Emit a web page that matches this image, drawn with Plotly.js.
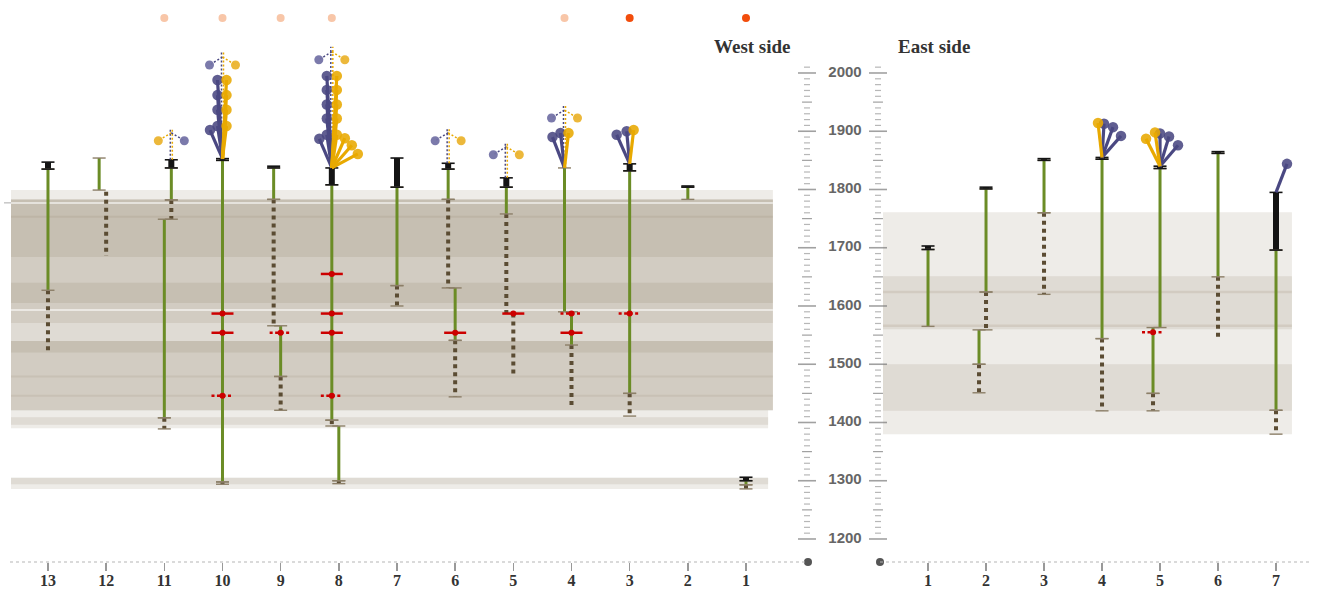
<!DOCTYPE html>
<html><head><meta charset="utf-8">
<script src="https://cdn.plot.ly/plotly-3.0.1.min.js"></script>
<style>html,body{margin:0;padding:0;background:#fff}#chart{width:1318px;height:590px}</style>
</head><body><div id="chart"></div>
<script>
// ================= DATA =================
const westCols = [13,12,11,10,9,8,7,6,5,4,3,2,1];
const eastCols = [1,2,3,4,5,6,7];

// [column, lane(-1 left / 0 centre / +1 right), kind, low, high]
const westSegments = [
  [13,0,'black',1835,1847],[13,0,'green',1627,1835],[13,0,'dot',1521,1627],
  [12,-1,'green',1799,1854],[12,0,'dot',1686,1796],
  [11,1,'black',1837,1851],[11,1,'green',1782,1837],[11,1,'dotc',1749,1782],[11,0,'green',1408,1749],[11,0,'dotc',1389,1408],
  [10,0,'black',1850,1853],[10,0,'green',1298,1850],[10,0,'dotc',1294,1298],
  [9,-1,'black',1837,1840],[9,-1,'green',1783,1837],[9,-1,'dotc',1566,1783],[9,0,'green',1479,1566],[9,0,'dotc',1421,1479],
  [8,-1,'black',1808,1837],[8,-1,'green',1404,1808],[8,-1,'dotc',1394,1404],[8,0,'green',1300,1394],[8,0,'dotc',1295,1300],
  [7,0,'black',1804,1854],[7,0,'green',1635,1804],[7,0,'dotc',1600,1635],
  [6,-1,'black',1835,1845],[6,-1,'green',1783,1835],[6,-1,'dotc',1631,1783],[6,0,'green',1541,1631],[6,0,'dotc',1444,1541],
  [5,-1,'black',1804,1820],[5,-1,'green',1758,1804],[5,-1,'dot',1587,1758],[5,0,'dot',1481,1587],
  [4,-1,'green',1590,1837],[4,0,'green',1533,1590],[4,0,'dot',1429,1533],
  [3,0,'black',1832,1844],[3,0,'green',1450,1832],[3,0,'dotc',1411,1450],
  [2,0,'black',1804,1806],[2,0,'green',1783,1804],
  [1,0,'black',1300,1306],[1,0,'green',1293,1300],[1,0,'dotc',1286,1293]
];
const eastSegments = [
  [1,0,'black',1697,1703],[1,0,'green',1565,1697],
  [2,0,'black',1801,1804],[2,0,'green',1624,1801],[2,0,'dotc',1559,1624],[2,-1,'green',1500,1559],[2,-1,'dotc',1451,1500],
  [3,0,'black',1850,1853],[3,0,'green',1760,1850],[3,0,'dotc',1620,1760],
  [4,0,'black',1852,1855],[4,0,'green',1544,1852],[4,0,'dotc',1420,1544],
  [5,0,'black',1836,1840],[5,0,'green',1563,1836],[5,-1,'green',1450,1563],[5,-1,'dotc',1420,1450],
  [6,0,'black',1862,1865],[6,0,'green',1650,1862],[6,0,'dot',1546,1650],
  [7,0,'black',1696,1795],[7,0,'green',1421,1696],[7,0,'dotc',1380,1421]
];

// red markers: [column, lane, value, style]
const westMarks = [
  [10,0,1587,'solid'],[10,0,1554,'solid'],[10,0,1446,'dotted'],
  [9,0,1554,'dotted'],
  [8,-1,1655,'solid'],[8,-1,1587,'solid'],[8,-1,1554,'solid'],[8,-1,1446,'dotted'],
  [6,0,1554,'solid'],[5,0,1587,'solid'],
  [4,0,1587,'dotted'],[4,0,1554,'solid'],[3,0,1587,'dotted']
];
const eastMarks = [[5,-1,1555,'dotted']];

// flower leaves: [column, lane, colour, value]  (lean in px kept apart below)
const westLeaves = [
  [10,0,'P',1988],[10,0,'P',1962],[10,0,'P',1937],[10,0,'P',1909],[10,0,'P',1902],
  [10,0,'G',1988],[10,0,'G',1962],[10,0,'G',1937],[10,0,'G',1909],
  [8,-1,'P',1995],[8,-1,'P',1971],[8,-1,'P',1946],[8,-1,'P',1922],[8,-1,'P',1894],[8,-1,'P',1887],
  [8,-1,'G',1995],[8,-1,'G',1971],[8,-1,'G',1946],[8,-1,'G',1922],[8,-1,'G',1894],[8,-1,'G',1888],[8,-1,'G',1876],[8,-1,'G',1861],
  [4,-1,'P',1890],[4,-1,'P',1897],[4,-1,'G',1897],
  [3,0,'P',1894],[3,0,'P',1900],[3,0,'G',1902]
];
const westLeafLean = [-5,-5,-5,-5,-12.5, 4,4,4,4, -5,-5,-5,-5,-5,-12.5, 5,5,5,5,5,13,20,26, -12,-4,4, -13,-3,4];
const eastLeaves = [
  [4,0,'G',1914],[4,0,'P',1913],[4,0,'P',1907],[4,0,'P',1892],
  [5,0,'G',1887],[5,0,'G',1898],[5,0,'P',1896],[5,0,'P',1891],[5,0,'P',1876],
  [7,0,'P',1844]
];
const eastLeafLean = [-4,2,11,19, -14,-5,0,9,18, 11];

// dotted flowers: [column, lane, top value, colour on the left]
const westDotFlowers = [[11,1,1906,'G'],[10,0,2036,'P'],[8,-1,2045,'P'],[6,-1,1906,'P'],[5,-1,1882,'P'],[4,-1,1945,'P']];

// flag dots along the top: [column, lane, kind]
const westFlags = [[11,0,'pale'],[10,0,'pale'],[9,0,'pale'],[8,-1,'pale'],[4,-1,'pale'],[3,0,'bright'],[1,0,'bright']];

// background ranges
const westBands = [[1421,1799],[1421,1783],[1571,1783],[1421,1540],[1684,1783],[1605,1640],[1520,1540]];
const westBandsShort = [[1390,1421],[1396,1409],[1286,1305],[1294,1305]];
const westLinesLight = [1593,1777];
const westLinesDark = [1446,1479,1753];
const eastBands = [[1380,1761],[1560,1651],[1420,1500]];
const eastLinesDark = [1624,1566];

const ladderTicks = [];
for (let v = 1200; v <= 2010; v += 10) ladderTicks.push(v);
const ladderLabels = [1200,1300,1400,1500,1600,1700,1800,1900,2000];

// ================= DRAWING =================
const W = 1318, H = 590;
const Y0 = 1160.5, Y1 = 2125.3;
const PXV = 562 / (Y1 - Y0);                 // px per unit (y)
const WR = [13.653, -0.066], ER = [0.172, 7.586];
const WD = [10 / W, 808 / W], ED = [880 / W, 1310 / W];
const PXW = 798 / Math.abs(WR[1] - WR[0]);
const PXE = 430 / Math.abs(ER[1] - ER[0]);
const LANE = 7;

const C = {green:'#6b8c26', dot:'#5b4c33', black:'#141414', cap:'#8c7f68', red:'#cc0000',
           P:'#4a4882', G:'#e8a900', Pl:'#7473a6', Gl:'#ebb430', pale:'#f8c6a8', bright:'#f24d0c'};

function xs(side, col, lane, px) {
  const off = lane * LANE + (px || 0);
  return side === 'W' ? col - off / PXW : col + off / PXE;
}
function ax(side) { return side === 'W' ? 'x' : 'x2'; }
const traces = [];
function lines(side, segs, line, extra) {
  const x = [], y = [];
  segs.forEach(s => { x.push(s[0], s[2], null); y.push(s[1], s[3], null); });
  traces.push(Object.assign({type:'scatter', mode:'lines', x, y, xaxis:ax(side), yaxis:'y',
    line, hoverinfo:'skip', showlegend:false}, extra || {}));
}
function marks(side, pts, marker, extra) {
  traces.push(Object.assign({type:'scatter', mode:'markers', x:pts.map(p=>p[0]), y:pts.map(p=>p[1]),
    xaxis:ax(side), yaxis:'y', marker, hoverinfo:'skip', showlegend:false}, extra || {}));
}

function drawSide(side, segs, mks, leaves, leans, dflowers, flags) {
  const g = [], d = [], b = [], capsN = [], capsB = [];
  segs.forEach(([col, lane, kind, lo, hi]) => {
    const x = xs(side, col, lane);
    if (kind === 'green') { g.push([x, lo, x, hi]); capsN.push([x, lo], [x, hi]); }
    else if (kind === 'black') { b.push([x, lo, x, hi]); capsB.push([x, lo], [x, hi]); }
    else { d.push([x, hi, x, lo]); if (kind === 'dotc') capsN.push([x, lo], [x, hi]); }
  });
  lines(side, g, {color:C.green, width:3});
  lines(side, d, {color:C.dot, width:4, dash:'4px,4px'});
  lines(side, b, {color:C.black, width:6});
  marks(side, capsN, {symbol:'line-ew', size:9.3, line:{width:1.4, color:C.cap}});
  marks(side, capsB, {symbol:'line-ew', size:9.3, line:{width:1.6, color:C.black}});

  // red markers
  const rs = [], rd = [], rc = [];
  mks.forEach(([col, lane, v, st]) => {
    const s = [xs(side, col, lane, -11), v, xs(side, col, lane, 11), v];
    (st === 'solid' ? rs : rd).push(s);
    rc.push([xs(side, col, lane), v]);
  });
  if (rs.length) lines(side, rs, {color:C.red, width:2.5});
  if (rd.length) lines(side, rd, {color:C.red, width:2.5, dash:'3px,2.5px'});
  marks(side, rc, {symbol:'circle', size:6, color:C.red});

  const base = (col, lane) => Math.max(...segs.filter(s => s[0] === col && s[1] === lane).map(s => s[4]));

  // dotted flowers
  dflowers.forEach(([col, lane, top, left]) => {
    const b0 = base(col, lane), right = left === 'P' ? 'G' : 'P';
    lines(side, [[xs(side,col,lane,-1), b0, xs(side,col,lane,-1), top]], {color:C.P, width:1.5, dash:'2px,2px'});
    lines(side, [[xs(side,col,lane,1), b0, xs(side,col,lane,1), top]], {color:C.G, width:1.5, dash:'2px,2px'});
    const j = top - 5 / PXV, cv = top - 13 / PXV;
    lines(side, [[xs(side,col,lane,0), j, xs(side,col,lane,-13), cv]], {color:C[left], width:1.5, dash:'2px,2px'});
    lines(side, [[xs(side,col,lane,0), j, xs(side,col,lane,13), cv]], {color:C[right], width:1.5, dash:'2px,2px'});
    marks(side, [[xs(side,col,lane,-13), cv]], {size:9, color:C[left + 'l'], opacity:0.95});
    marks(side, [[xs(side,col,lane,13), cv]], {size:9, color:C[right + 'l'], opacity:0.95});
  });

  // solid flowers
  ['P', 'G'].forEach(cl => {
    const segsL = [], tips = [];
    leaves.forEach(([col, lane, c, v], i) => {
      if (c !== cl) return;
      const b0 = base(col, lane);
      segsL.push([xs(side,col,lane), b0, xs(side,col,lane,leans[i]), v]);
      tips.push([xs(side,col,lane,leans[i]), v]);
    });
    if (segsL.length) {
      lines(side, segsL, {color:C[cl], width:3.2});
      marks(side, tips, {size:10.5, color:C[cl], opacity:0.88});
    }
  });

  // flags
  const FLAG_Y = Y1 - 18 / PXV;
  ['pale', 'bright'].forEach(k => {
    const pts = flags.filter(f => f[2] === k).map(([col, lane]) => [xs(side, col, lane), FLAG_Y]);
    if (pts.length) marks(side, pts, {size:8, color:C[k]});
  });
}
drawSide('W', westSegments, westMarks, westLeaves, westLeafLean, westDotFlowers, westFlags);
drawSide('E', eastSegments, eastMarks, eastLeaves, eastLeafLean, [], []);

// ladders (pixel x-axis x3)
function tl(v) { return v % 100 === 0 ? 12.9 : (v % 50 === 0 ? 7.1 : 4.3); }
[807, 878].forEach(px => {
  traces.push({type:'scatter', mode:'markers', x:ladderTicks.map(() => px), y:ladderTicks, xaxis:'x3', yaxis:'y',
    marker:{symbol:'line-ew', size:ladderTicks.map(tl),
      line:{width:ladderTicks.map(v => v % 100 === 0 ? 1.6 : 1.2), color:ladderTicks.map(v => v % 50 === 0 ? '#7a7a7a' : '#9a9a9a')}},
    hoverinfo:'skip', showlegend:false});
});
traces.push({type:'scatter', mode:'text', x:ladderLabels.map(() => 845), y:ladderLabels, text:ladderLabels.map(String),
  textposition:'middle center', textfont:{family:'Liberation Sans, Arial, sans-serif', size:15, color:'#666', weight:700},
  xaxis:'x3', yaxis:'y', hoverinfo:'skip', showlegend:false});
traces.push({type:'scatter', mode:'markers', x:[808, 880], y:[Y0, Y0], xaxis:'x3', yaxis:'y', cliponaxis:false,
  marker:{size:8, color:'#555'}, hoverinfo:'skip', showlegend:false});

// shapes
const shapes = [];
const band = (xref, x0, x1, lo, hi) => shapes.push({type:'rect', layer:'below', xref, yref:'y', x0, x1, y0:lo, y1:hi,
  fillcolor:'rgba(120,100,70,0.126)', line:{width:0}});
westBands.forEach(([lo, hi]) => band('x domain', 0.00125, 0.956, lo, hi));
westBandsShort.forEach(([lo, hi]) => band('x domain', 0.00125, 0.95, lo, hi));
eastBands.forEach(([lo, hi]) => band('x2 domain', 0.007, 0.958, lo, hi));
const hl = (xref, x0, x1, v, color, w) => shapes.push({type:'line', layer:'below', xref, yref:'y', x0, x1, y0:v, y1:v, line:{color, width:w}});
westLinesLight.forEach(v => hl('x domain', 0.00125, 0.956, v, 'rgba(255,255,255,0.55)', 2));
westLinesDark.forEach(v => hl('x domain', 0.00125, 0.956, v, 'rgba(120,100,70,0.10)', 2));
eastLinesDark.forEach(v => hl('x2 domain', 0.007, 0.958, v, 'rgba(120,100,70,0.13)', 2.5));
shapes.push({type:'line', xref:'paper', yref:'y', x0:4 / W, x1:11 / W, y0:1777, y1:1777, line:{color:'#aaa', width:1}});
['x', 'x2'].forEach(a => shapes.push({type:'line', xref:a + ' domain', yref:'y domain', x0:0, x1:1, y0:0, y1:0,
  line:{color:'#b5b5b5', width:1, dash:'dot'}}));

const xbase = {ticks:'outside', ticklen:8, tickwidth:1.5, tickcolor:'#999', showgrid:false, zeroline:false, showline:false,
  ticklabelstandoff:-4,
  tickfont:{family:'Liberation Serif, Times New Roman, serif', size:16, color:'#333', weight:700}, anchor:'y', fixedrange:true};

const layout = {
  width:W, height:H, margin:{l:0, r:0, t:0, b:0}, paper_bgcolor:'#fff', plot_bgcolor:'rgba(0,0,0,0)', showlegend:false,
  xaxis:Object.assign({}, xbase, {domain:WD, range:WR, tickvals:westCols, ticktext:westCols.map(String)}),
  xaxis2:Object.assign({}, xbase, {domain:ED, range:ER, tickvals:eastCols, ticktext:eastCols.map(String)}),
  xaxis3:{domain:[0, 1], range:[0, W], visible:false, anchor:'y', fixedrange:true},
  yaxis:{domain:[1 - 562 / H, 1], range:[Y0, Y1], visible:false, fixedrange:true},
  shapes,
  annotations:[
    {text:'West side', xref:'paper', yref:'paper', x:793 / W, y:1 - 47 / H, xanchor:'right', yanchor:'middle', showarrow:false,
     font:{family:'Liberation Serif, Times New Roman, serif', size:19, color:'#333', weight:700}},
    {text:'East side', xref:'paper', yref:'paper', x:896 / W, y:1 - 47 / H, xanchor:'left', yanchor:'middle', showarrow:false,
     font:{family:'Liberation Serif, Times New Roman, serif', size:19, color:'#333', weight:700}}
  ]
};
Plotly.newPlot('chart', traces, layout, {displayModeBar:false, staticPlot:true});
</script></body></html>
